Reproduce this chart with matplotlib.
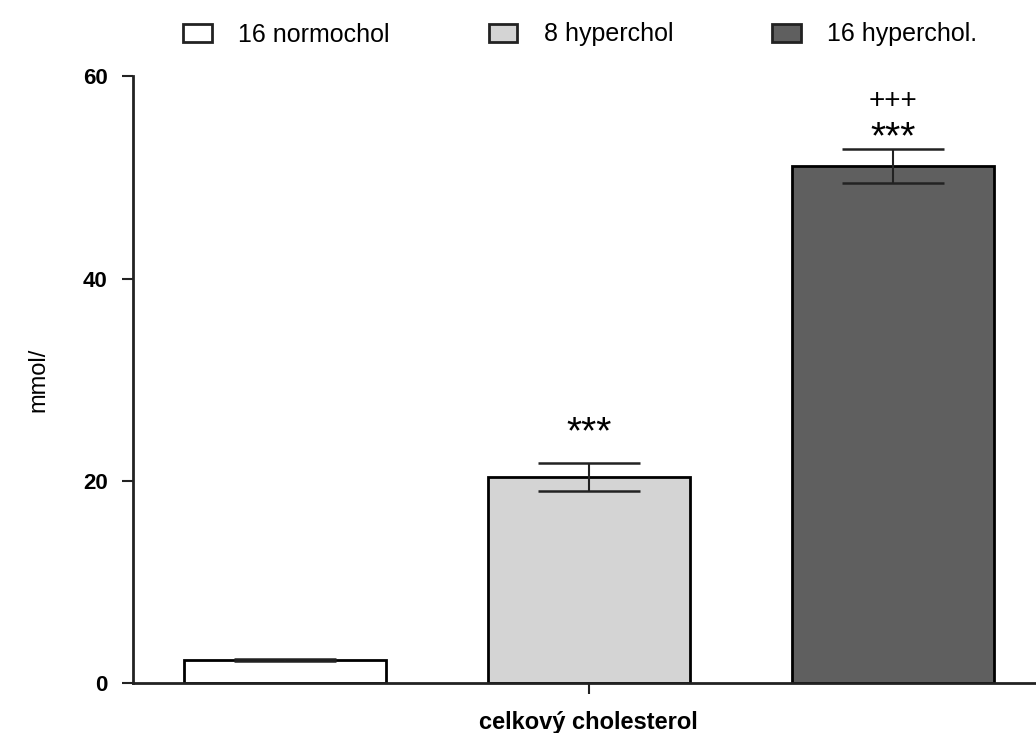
import numpy as np
import matplotlib.pyplot as plt
from matplotlib.patches import Patch

plt.rcParams['font.family'] = ['Liberation Sans', 'DejaVu Sans']

groups = ["16 normochol", "8 hyperchol", "16 hyperchol."]
means = [2.3, 20.35, 51.1]
errors = [0.1, 1.4, 1.7]
colors = ["#ffffff", "#d4d4d4", "#5f5f5f"]
marks = ["", "***", "***"]
marks2 = ["", "", "+++"]
yticks = [0, 20, 40, 60]
xlabel = "celkový cholesterol"
ylabel = "mmol/"


def main():
    fig = plt.figure(figsize=(10.36, 7.33), dpi=100)
    ax = fig.add_axes([0.128, 0.068, 0.872, 0.828])

    x = np.arange(len(groups))
    ax.bar(x, means, width=0.664, color=colors, edgecolor="black", linewidth=2, zorder=2)
    ax.errorbar(x, means, yerr=errors, fmt="none", ecolor="#222222",
                elinewidth=1.5, capsize=37, capthick=1.8, zorder=3)

    # significance marks above the error bars
    gaps = [0, 2.9, 1.1]
    for xi, m, e, g, s in zip(x, means, errors, gaps, marks):
        if s:
            ax.text(xi, m + e + g, s, ha="center", va="center", fontsize=28, clip_on=False)
    for xi, m, e, s in zip(x, means, errors, marks2):
        if s:
            ax.text(xi, m + e + 4.8, s, ha="center", va="center", fontsize=20, clip_on=False)

    ax.set_xlim(-0.5, 2.47)
    ax.set_ylim(0, 60)
    ax.set_yticks(yticks)
    ax.set_yticklabels([str(t) for t in yticks], fontweight="bold", fontsize=16)
    ax.set_xticks([1])
    ax.set_xticklabels([xlabel], fontweight="bold", fontsize=17)
    ax.tick_params(axis="both", direction="out", length=8, width=1.5, color="#222222")
    ax.tick_params(axis="x", pad=12)
    ax.tick_params(axis="y", pad=10)
    ax.set_ylabel(ylabel, fontsize=17, labelpad=24)

    ax.spines["top"].set_visible(False)
    ax.spines["right"].set_visible(False)
    for side in ["left", "bottom"]:
        ax.spines[side].set_linewidth(2)
        ax.spines[side].set_color("#222222")

    handles = [Patch(facecolor=c, edgecolor="#222222", linewidth=2, label=g)
               for c, g in zip(colors, groups)]
    fig.legend(handles=handles, loc="upper center", ncol=3, frameon=False,
               bbox_to_anchor=(0.56, 1.0), fontsize=18, handlelength=1.15,
               handleheight=0.75, handletextpad=1.05, columnspacing=3.95)

    fig.savefig("out.png", dpi=100)


if __name__ == '__main__':
    main()
